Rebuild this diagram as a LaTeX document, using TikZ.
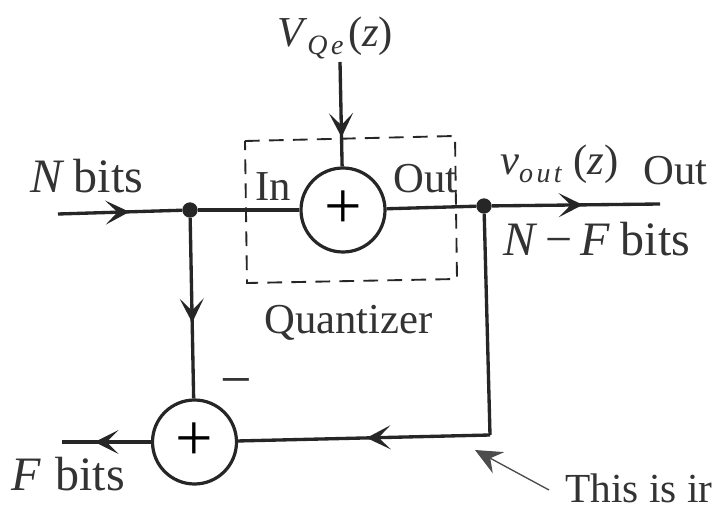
\documentclass[tikz,border=0pt]{standalone}
\usepackage{fontspec}
\setmainfont{Liberation Serif}
\usetikzlibrary{decorations.markings,arrows.meta}
\newcommand{\subtxt}[1]{\raisebox{-6pt}{\fontsize{21}{21}\selectfont\addfontfeature{LetterSpace=12}\textit{#1}}}
\tikzset{
 wire/.style={line width=2.5pt,draw=black!85},
 mid/.style={postaction={decorate},decoration={markings,mark=at position #1 with {\arrow[black!85]{Stealth[length=18pt,width=18pt,inset=9pt]}}}},
 sumnode/.style={circle,draw=black!85,line width=2.4pt,minimum size=63pt,inner sep=0pt,font=\fontsize{50}{50}\selectfont},
 lab/.style={inner sep=0pt,text=black!80,font=\fontsize{32}{33}\selectfont,anchor=base west},
 biglab/.style={lab,font=\fontsize{36}{37}\selectfont},
 dot/.style={circle,fill=black!85,minimum size=11.5pt,inner sep=0pt},
}
\begin{document}
\begin{tikzpicture}[x=0.75pt,y=-0.75pt]
\useasboundingbox (0,0) rectangle (713,509);
\fill[white] (0,0) rectangle (713,509);
\coordinate (in) at (58,214);
\coordinate (out) at (660,204);
\coordinate (top) at (340,62);
\coordinate (corner) at (490,435);
\coordinate (fout) at (62,442);
\node[dot] (d1) at (190,210) {};
\node[dot] (d2) at (484,206) {};
\node[sumnode] (q) at (343,210) {+};
\node[sumnode] (s) at (194.5,442) {+};
\draw[wire,mid=0.576] (in) -- (d1);
\draw[wire,mid=0.54] (d2) -- (out);
\draw[wire,mid=0.72] (top) -- (q);
\draw[wire,mid=0.58] (d1) -- (s);
\draw[wire] (d2) -- (corner);
\draw[wire,mid=0.49] (corner) -- (s);
\draw[wire,mid=0.633] (s) -- (fout);
\draw[wire] (d1) -- (q);
\draw[wire] (q) -- (d2);
\draw[black!85,line width=1.4pt,dash pattern=on 11pt off 7pt] (245,141) -- (455,136) -- (457,279) -- (247,283) -- cycle;
\node[lab] (l1) at (277,47) {\textit{V}\subtxt{Qe}\kern1pt(\textit{z})};
\node[biglab] (l2) at (30,193) {\textit{N}\kern7pt bits};
\node[lab] (l3) at (255,201) {In};
\node[lab] (l4) at (393,193) {Out};
\node[lab] (l5) at (500,175) {\textit{v}\subtxt{out}\kern6pt(\textit{z})};
\node[lab] (l6) at (643,185) {Out};
\node[biglab] (l7) at (503,256) {\textit{N}\kern6pt−\kern6pt\textit{F}\kern8pt bits};
\node[lab] (l8) at (264,333) {Quantizer};
\node[biglab] (l9) at (11,490) {\textit{F}\kern11pt bits};
\node[lab,font=\fontsize{31}{32}\selectfont] (l10) at (565,502) {This is ir};
\node[lab,font=\fontsize{42}{42}\selectfont] (l11) at (220,398) {−};
\coordinate (p) at (549,490);
\coordinate (ptip) at (475,450);
\draw[black!70,line width=1pt,-{Stealth[length=20pt,width=18pt,inset=7pt]}] (p) -- (ptip);
\end{tikzpicture}
\end{document}
